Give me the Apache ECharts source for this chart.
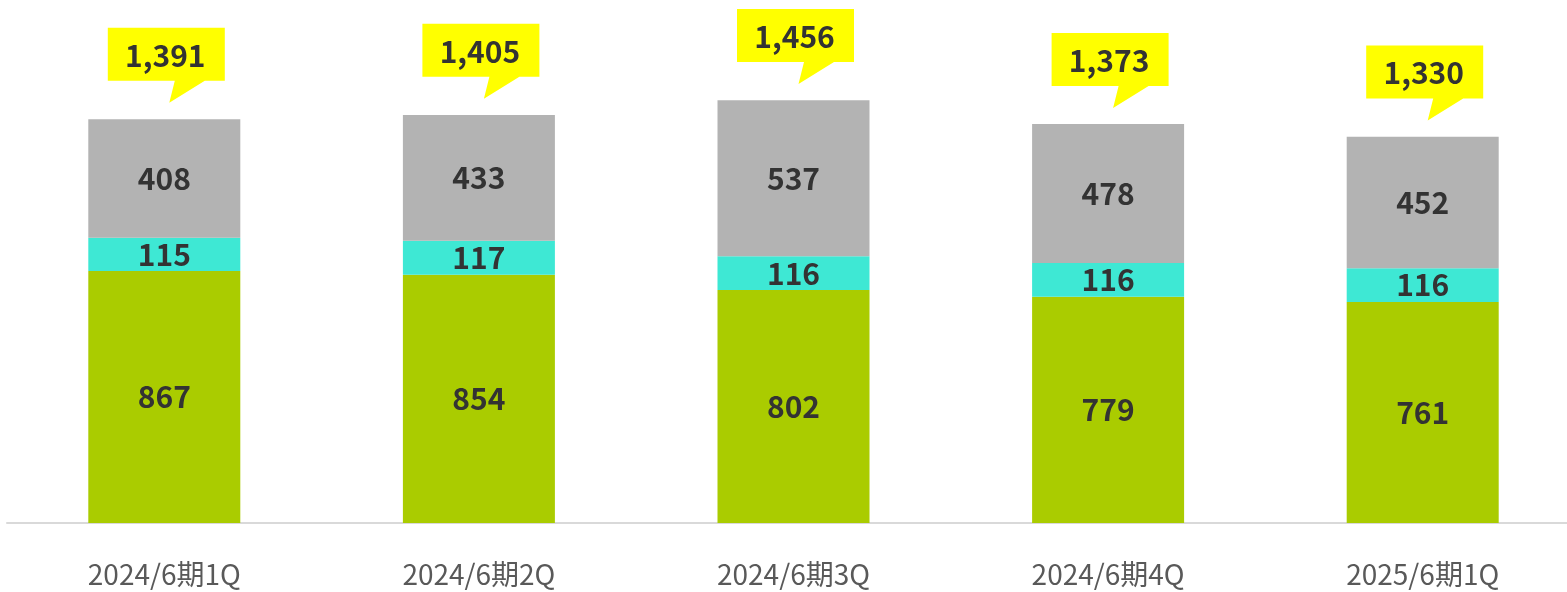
<!DOCTYPE html>
<html>
<head>
<meta charset="utf-8">
<script src="https://cdn.jsdelivr.net/npm/echarts@6/dist/echarts.min.js"></script>
<style>
  html, body { margin: 0; padding: 0; background: #fff; overflow: hidden; }
  /* 右端の軸線が画面外まで伸びるので少し広めに取る */
  #chart { width: 1580px; height: 592px; }
</style>
</head>
<body>
<div id="chart"></div>
<script>
  const categories = ['2024/6期1Q', '2024/6期2Q', '2024/6期3Q', '2024/6期4Q', '2025/6期1Q'];
  const greenValues = [867, 854, 802, 779, 761];
  const cyanValues = [115, 117, 116, 116, 116];
  const grayValues = [408, 433, 537, 478, 452];
  const totals = [1391, 1405, 1456, 1373, 1330];

  const font = '"Noto Sans CJK JP", "Noto Sans", sans-serif';
  const myChart = echarts.init(document.getElementById('chart'));

  const innerLabel = {
    show: true,
    position: 'inside',
    color: '#333333',
    fontSize: 30,
    fontWeight: 'bold',
    fontFamily: font,
  };

  function stackBar(name, values, color) {
    return {
      name: name,
      type: 'bar',
      stack: 'total',
      barWidth: 152,
      data: values,
      itemStyle: { color: color },
      label: innerLabel,
      emphasis: { disabled: true },
    };
  }

  // 合計の吹き出し
  function renderCallout(params, api) {
    const top = api.coord([api.value(0), api.value(1)]);
    const w = 117, h = 53;
    const L = top[0] + 2 - w / 2;
    const B = top[1] - 38;
    const T = B - h;
    return {
      type: 'group',
      children: [
        {
          type: 'polygon',
          shape: {
            points: [
              [L, T], [L + w, T], [L + w, B], [L + 97, B],
              [L + 61.5, top[1] - 16], [L + 67, B], [L, B],
            ],
          },
          style: { fill: '#FFFF00' },
        },
        {
          type: 'text',
          style: {
            x: L + w / 2 - 1,
            y: T + h / 2 + 1,
            text: totals[params.dataIndex].toLocaleString('en-US'),
            align: 'center',
            verticalAlign: 'middle',
            fill: '#333333',
            fontSize: 30,
            fontWeight: 'bold',
            fontFamily: font,
          },
        },
      ],
    };
  }

  const option = {
    animation: false,
    grid: { left: 7, right: 0, top: 0, bottom: 69 },
    xAxis: {
      type: 'category',
      data: categories,
      axisLine: { lineStyle: { color: '#D9D9D9', width: 2 } },
      axisTick: { show: false },
      axisLabel: {
        color: '#595959',
        fontSize: 28,
        fontFamily: font,
        margin: 37,
      },
    },
    yAxis: {
      type: 'value',
      min: 0,
      max: 1800,
      show: false,
      splitLine: { show: false },
    },
    series: [
      stackBar('green', greenValues, '#AACC00'),
      stackBar('cyan', cyanValues, '#3EE8D4'),
      stackBar('gray', grayValues, '#B3B3B3'),
      {
        type: 'custom',
        renderItem: renderCallout,
        data: totals.map((v, i) => [i, v]),
        z: 10,
      },
    ],
  };

  myChart.setOption(option);
</script>
</body>
</html>
